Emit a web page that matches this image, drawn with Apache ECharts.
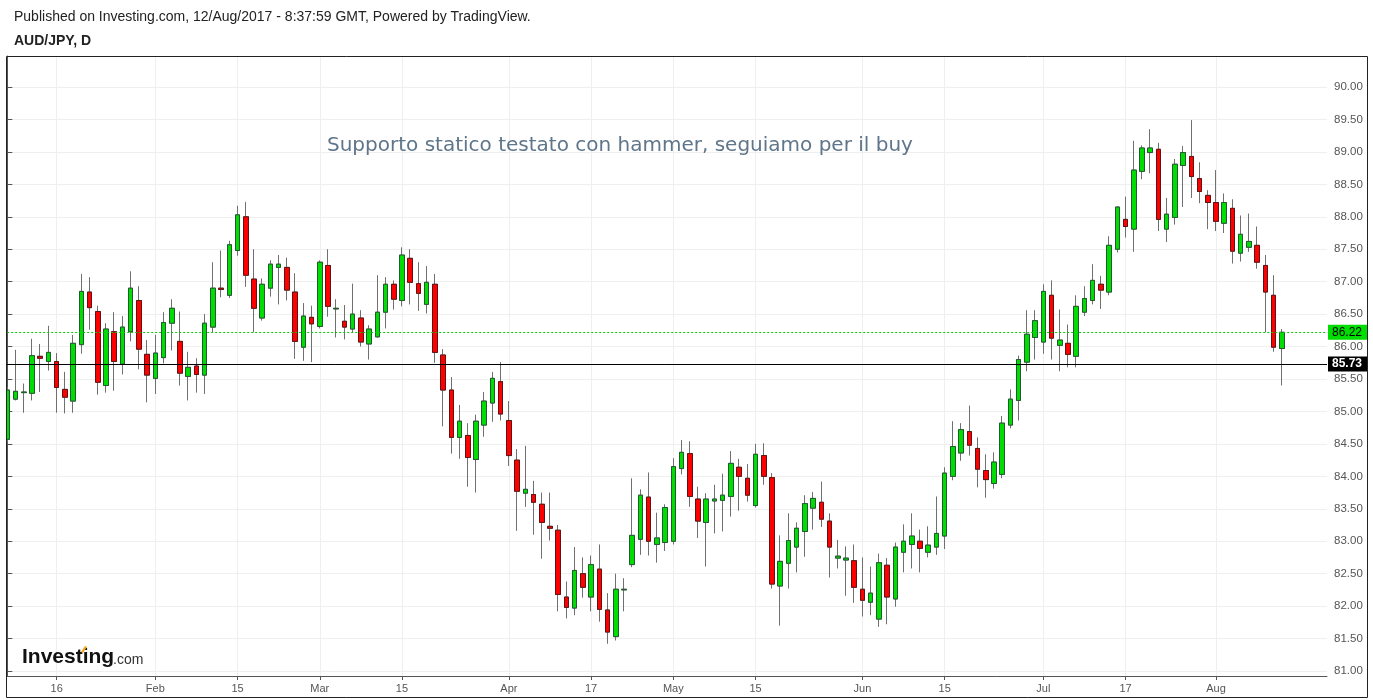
<!DOCTYPE html>
<html><head><meta charset="utf-8">
<script src="https://cdn.jsdelivr.net/npm/echarts@6/dist/echarts.min.js"></script>
<style>html,body{margin:0;padding:0;background:#fff}#c{width:1373px;height:700px}</style>
</head><body><div id="c"></div>
<script>
// ---- data (AUD/JPY daily, 6 Jan 2017 - 11 Aug 2017) ----
const firstDate = '2017-01-06';
const futureSlots = 5; // empty trading days shown to the right of the last bar
const opens = [84.57,85.19,85.29,85.28,85.85,85.77,85.77,85.34,85.16,86.03,
86.84,86.54,85.40,86.23,85.73,86.23,86.71,85.88,85.51,85.83,
86.36,86.08,85.54,85.70,85.56,86.30,86.90,86.79,87.48,88.00,
87.04,86.44,86.90,87.22,87.22,86.84,85.99,86.45,86.31,87.25,
86.58,86.39,86.27,86.44,86.04,86.15,86.53,86.96,86.71,87.36,
86.97,86.65,86.96,85.87,85.33,84.60,84.63,84.26,84.79,85.13,
85.46,84.86,84.25,83.74,83.72,83.57,83.23,83.17,82.14,81.97,
82.50,82.14,82.57,81.94,81.53,82.25,82.64,83.03,83.68,82.95,
82.98,83.00,84.12,84.35,83.65,83.29,83.62,83.63,83.69,84.14,
83.97,83.55,84.32,83.98,82.31,82.66,82.91,83.15,83.51,83.60,
83.31,82.74,82.71,82.70,82.26,82.06,81.80,82.63,82.11,82.83,
82.95,83.00,82.83,82.91,83.08,84.00,84.36,84.69,84.43,84.09,
83.89,84.03,84.79,85.17,85.76,86.14,86.07,86.79,86.02,86.05,
85.85,86.53,86.71,86.96,86.84,87.50,87.96,87.81,88.70,88.99,
89.04,87.81,87.99,88.79,88.93,88.59,88.33,88.22,87.90,88.13,
87.44,87.53,87.56,87.25,86.79,85.97];
const closes = [85.33,85.31,85.30,85.86,85.82,85.91,85.37,85.22,86.05,86.85,
86.60,85.45,86.27,85.77,86.30,86.90,85.96,85.56,85.90,86.37,
86.59,85.59,85.68,85.57,86.36,86.90,86.88,87.57,88.03,87.10,
86.59,86.96,87.27,87.27,86.87,86.08,86.47,86.35,87.30,86.62,
86.59,86.30,86.50,86.07,86.27,86.53,86.96,86.73,87.41,86.99,
86.82,86.99,85.91,85.33,84.60,84.85,84.29,84.85,85.16,85.51,
84.96,84.32,83.77,83.80,83.60,83.29,83.20,82.18,81.98,82.55,
82.29,82.64,81.95,81.60,82.26,82.26,83.09,83.71,83.00,83.05,
83.52,84.15,84.37,83.69,83.31,83.65,83.65,83.71,84.20,84.00,
83.71,84.34,84.00,82.34,82.69,83.01,83.20,83.58,83.66,83.34,
82.91,82.77,82.74,82.29,82.09,82.20,82.67,82.14,82.91,83.00,
83.08,82.89,82.94,83.12,84.05,84.46,84.72,84.48,84.11,83.95,
84.22,84.82,85.19,85.80,86.19,86.40,86.85,86.13,86.10,85.88,
86.62,86.74,87.02,86.87,87.56,88.15,87.85,88.72,89.06,89.06,
87.96,88.04,88.81,88.99,88.62,88.39,88.22,87.93,88.22,87.47,
87.73,87.62,87.30,86.84,85.99,86.22];
const lows = [84.52,85.17,84.98,85.17,85.30,85.63,84.98,84.97,84.98,85.89,
86.26,85.26,85.29,85.32,85.57,86.08,85.65,85.14,85.27,85.74,
85.94,85.40,85.17,85.29,85.27,86.22,86.76,86.75,87.40,86.92,
86.22,86.40,86.77,86.65,86.71,85.81,85.78,85.76,86.28,86.46,
86.14,86.11,86.21,86.00,85.80,86.14,86.28,86.57,86.62,86.65,
86.55,86.51,85.75,84.77,84.35,84.27,83.84,83.75,84.61,84.84,
84.86,84.16,83.16,83.53,83.10,82.73,83.01,81.92,81.81,81.86,
82.13,81.92,81.76,81.42,81.47,81.92,82.60,82.79,82.78,82.67,
82.85,82.95,84.03,83.53,83.05,82.61,83.12,83.15,83.38,83.47,
83.61,83.52,83.87,82.27,81.70,82.27,82.52,82.76,83.18,83.22,
82.44,82.58,82.16,82.05,81.84,81.86,81.68,81.72,81.99,82.52,
82.58,82.52,82.75,82.79,82.88,83.94,84.24,84.32,83.83,83.67,
83.81,83.97,84.74,84.86,85.62,85.80,85.89,85.80,85.62,85.68,
85.68,86.47,86.65,86.58,86.79,87.45,87.68,87.46,88.58,88.67,
87.78,87.61,87.88,88.15,88.29,88.21,87.81,87.78,87.75,87.28,
87.31,87.46,87.20,86.22,85.92,85.40];
const highs = [85.38,85.95,85.43,86.12,86.04,86.32,85.90,85.61,86.18,87.12,
87.07,86.63,86.36,86.53,86.47,87.16,86.93,86.10,86.18,86.53,
86.73,86.54,85.92,85.82,86.50,87.30,87.48,87.63,88.17,88.23,
87.50,87.05,87.33,87.41,87.37,87.13,86.67,86.63,87.33,87.50,
86.73,86.64,86.97,86.56,86.33,87.10,87.07,87.02,87.53,87.50,
87.30,87.24,87.12,85.96,85.53,85.10,84.82,84.95,85.30,85.61,
85.76,85.16,84.42,84.47,83.93,83.75,83.75,83.25,82.38,82.91,
82.75,82.78,82.95,82.20,82.50,82.43,83.97,83.80,84.06,83.44,
83.57,84.28,84.56,84.54,83.84,83.74,83.87,84.04,84.39,84.27,
84.19,84.50,84.51,84.05,83.09,83.43,83.29,83.71,83.76,83.92,
83.43,83.02,82.92,82.95,82.75,82.61,82.81,82.74,82.98,83.26,
83.43,83.18,83.23,83.69,84.14,84.85,84.82,85.09,84.60,84.34,
84.37,84.93,85.34,85.86,86.56,86.56,86.96,87.02,86.57,86.34,
86.79,86.93,87.27,87.09,87.70,88.16,88.31,89.17,89.10,89.35,
89.14,88.29,88.89,89.09,89.49,88.84,88.41,88.72,88.36,88.27,
88.02,88.05,87.85,87.41,87.10,86.27];
const xTickDates = ['2017-01-16','2017-02-01','2017-02-15','2017-03-01','2017-03-15','2017-04-03','2017-04-17',
  '2017-05-01','2017-05-15','2017-06-01','2017-06-15','2017-07-03','2017-07-17','2017-08-01'];
const xTickLabels = ['16','Feb','15','Mar','15','Apr','17','May','15','Jun','15','Jul','17','Aug'];
const yTicks = [81,81.5,82,82.5,83,83.5,84,84.5,85,85.5,86,86.5,87,87.5,88,88.5,89,89.5,90];
const lastPrice = 86.22;
const supportLevel = 85.73;
const yMin = 80.923, yMax = 90.478;
const headerText = 'Published on Investing.com, 12/Aug/2017 - 8:37:59 GMT, Powered by TradingView.';
const symbolText = 'AUD/JPY, D';
const noteText = 'Supporto statico testato con hammer, seguiamo per il buy';

// ---- categories: trading days (weekdays) ----
const dates = [];
(function(){
  const d = new Date(firstDate + 'T00:00:00Z');
  while (dates.length < opens.length + futureSlots) {
    const wd = d.getUTCDay();
    if (wd !== 0 && wd !== 6) dates.push(d.toISOString().slice(0,10));
    d.setUTCDate(d.getUTCDate() + 1);
  }
})();
const tickIdx = xTickDates.map(s => dates.indexOf(s));
const tickMap = {};
tickIdx.forEach((i, k) => { tickMap[i] = xTickLabels[k]; });

const fullCandles = opens.map((o, i) => [o, closes[i], lows[i], highs[i]]);
const bodies = opens.map((o, i) => [o, closes[i], Math.min(o, closes[i]), Math.max(o, closes[i])]);

const GREEN = '#00dd00', RED = '#ff0000';
const FONT = '"Liberation Sans", Arial, sans-serif';

const chart = echarts.init(document.getElementById('c'), null, {renderer: 'canvas'});
chart.setOption({
  animation: false,
  backgroundColor: '#ffffff',
  grid: {left: 3.2, right: 46, top: 56, bottom: 24, containLabel: false},
  xAxis: [{
    type: 'category', data: dates, boundaryGap: true, show: false
  }, {
    type: 'value', min: -0.5, max: dates.length - 0.5, position: 'bottom',
    axisLine: {show: true, onZero: false, lineStyle: {color: '#555', width: 1}},
    axisTick: {show: true, customValues: tickIdx, length: 4, lineStyle: {color: '#555'}},
    axisLabel: {customValues: tickIdx, formatter: v => tickMap[Math.round(v)] || '', color: '#555',
      fontSize: 11, fontFamily: FONT, margin: 7},
    splitLine: {show: true, lineStyle: {color: '#efefef', width: 1}}
  }],
  yAxis: [{
    type: 'value', position: 'right', min: yMin, max: yMax,
    axisLine: {show: true, lineStyle: {color: '#555', width: 1}},
    axisTick: {show: true, customValues: yTicks, length: 5, lineStyle: {color: '#555'}},
    axisLabel: {customValues: yTicks, formatter: v => v.toFixed(2), color: '#555',
      fontSize: 11.5, fontFamily: FONT, margin: 7},
    splitLine: {show: true, lineStyle: {color: '#efefef', width: 1}}
  }],
  series: [{
    type: 'candlestick', xAxisIndex: 0, yAxisIndex: 0, data: fullCandles, barWidth: 5,
    itemStyle: {color: GREEN, color0: RED, borderColor: '#707070', borderColor0: '#707070', borderWidth: 1},
    silent: true
  }, {
    type: 'candlestick', xAxisIndex: 0, yAxisIndex: 0, data: bodies, barWidth: 5,
    itemStyle: {color: GREEN, color0: RED, borderColor: '#235a33', borderColor0: '#5e1414', borderWidth: 1},
    silent: true,
    markLine: {
      silent: true, symbol: ['none', 'none'], animation: false,
      data: [
        {yAxis: lastPrice, lineStyle: {color: '#00cc00', type: [2, 2], width: 1},
          label: {show: true, position: 'end', distance: 1, formatter: p => Number(p.value).toFixed(2),
            backgroundColor: '#00dd00', color: '#000', padding: [2, 5, 1, 4], fontSize: 12, fontFamily: FONT}},
        {yAxis: supportLevel, lineStyle: {color: '#000', type: 'solid', width: 1},
          label: {show: true, position: 'end', distance: 1, formatter: p => Number(p.value).toFixed(2),
            backgroundColor: '#000', color: '#fff', fontWeight: 'bold', padding: [2, 5, 1, 4], fontSize: 12, fontFamily: FONT}}
      ]
    }
  }],
  graphic: [
    {type: 'rect', z: 100, shape: {x: 0, y: 50, width: 6, height: 650}, style: {fill: '#fff'}},
    {type: 'rect', z: 101, shape: {x: 6.5, y: 56.5, width: 1361, height: 641}, style: {fill: null, stroke: '#222', lineWidth: 1}},
    {type: 'text', z: 101, x: 14, y: 17.5, style: {text: headerText, font: '14px ' + FONT, fill: '#222', textVerticalAlign: 'middle'}},
    {type: 'text', z: 101, x: 14, y: 41, style: {text: symbolText, font: 'bold 14px ' + FONT, fill: '#222', textVerticalAlign: 'middle'}},
    {type: 'text', z: 101, x: 327, y: 146, style: {text: noteText, font: '20px "DejaVu Sans", Verdana, sans-serif', fill: '#5f758a', textVerticalAlign: 'middle'}},
    {type: 'text', z: 101, x: 22, y: 668, style: {text: 'Investing', font: 'bold 21px ' + FONT, fill: '#111', textVerticalAlign: 'bottom'}},
    {type: 'text', z: 101, x: 113, y: 667, style: {text: '.com', font: '14px ' + FONT, fill: '#333', textVerticalAlign: 'bottom'}},
    {type: 'polygon', z: 102, shape: {points: [[81, 652], [85, 646], [87, 647], [83, 653]]}, style: {fill: '#f7a21b'}}
  ]
});
</script>
</body></html>
